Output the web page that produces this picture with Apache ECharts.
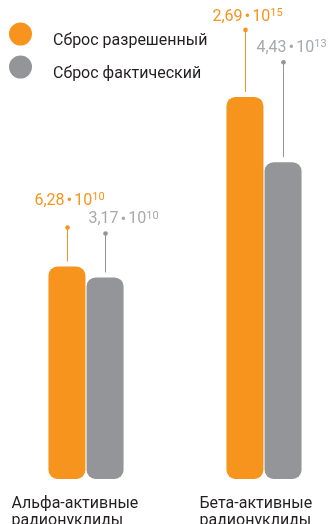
<!DOCTYPE html>
<html><head><meta charset="utf-8">
<script src="https://cdn.jsdelivr.net/npm/echarts@6/dist/echarts.min.js"></script>
<style>html,body{margin:0;padding:0;background:#fff}#c{width:330px;height:524px}</style>
</head><body><div id="c"></div>
<script>
// ---- data ----
const categories = ['Альфа-активные\nрадионуклиды', 'Бета-активные\nрадионуклиды'];
const seriesNames = ['Сброс разрешенный', 'Сброс фактический'];
const allowedValues = [6.28e10, 2.69e15];
const actualValues = [3.17e10, 4.43e13];

// ---- style / layout (not data) ----
const FONT = 'Roboto';
const ORANGE = '#F7941D', GRAY = '#939598', GRAY_TXT = '#A7A9AC', DARK = '#231F20';
// per series, per category: [dot height above bar top, text dx from dot, text dy above dot]
const calloutLayout = [
  [[39, 2, 27], [67, 2, 13]],
  [[44, 18, 14], [100, 8, 14]]
];
const labelBoxWidth = [149, 129];
const legendTops = [22.5, 55.5];
// circle on top of the icon box, text sits lower
const legendIcon = 'path://M0,11.5A11.5,11.5,0,1,1,23,11.5A11.5,11.5,0,1,1,0,11.5Z M0,37L0.01,37L0,37Z';

const seriesValues = [allowedValues, actualValues];
const colors = [ORANGE, GRAY];
const textColors = [ORANGE, GRAY_TXT];

const calloutData = [];
seriesValues.forEach((vals, s) => vals.forEach((v, ci) => calloutData.push([ci, v, s])));

function renderCallout(params, api) {
  const ci = api.value(0), v = api.value(1), s = api.value(2);
  const p = api.coord([ci, v]);
  const x = Math.round(p[0] + (s === 0 ? -19 : 19)) + 0.5;
  const top = p[1];
  const L = calloutLayout[s][ci];
  const exp = Math.floor(Math.log10(v) + 1e-9);
  const mant = (v / Math.pow(10, exp)).toFixed(2).replace('.', ',');
  const tc = textColors[s];
  return {
    type: 'group',
    children: [
      {type: 'line', shape: {x1: x, y1: top - 5, x2: x, y2: top - L[0]}, style: {stroke: colors[s], lineWidth: 1}},
      {type: 'circle', shape: {cx: x, cy: top - L[0], r: 2.3}, style: {fill: colors[s]}},
      {type: 'text', style: {
        x: x + L[1], y: top - L[0] - L[2],
        text: '{v|' + mant + '}{b|•}{v|10}{s|' + exp + '}',
        align: 'center', verticalAlign: 'middle',
        font: '16px ' + FONT, fill: tc,
        rich: {
          v: {font: '16px ' + FONT, fill: tc},
          b: {font: '17px ' + FONT, fill: tc, padding: [0, 2, 0, 2]},
          s: {font: '11px ' + FONT, fill: tc, padding: [0, 0, 7, 0]}
        }
      }}
    ]
  };
}

function makeLegend(i) {
  return {
    data: [seriesNames[i]],
    orient: 'vertical', left: 9, top: legendTops[i], padding: 0,
    icon: legendIcon, itemWidth: 23, itemHeight: 37,
    textStyle: {fontSize: 16, fontFamily: FONT, color: DARK, padding: [0, 0, 0, 16]}
  };
}

const chart = echarts.init(document.getElementById('c'), null, {renderer: 'canvas'});
chart.setOption({
  animation: false,
  backgroundColor: '#fff',
  grid: {left: -3, width: 356, top: 76, bottom: 45, outerBoundsMode: 'none', containLabel: false},
  legend: [makeLegend(0), makeLegend(1)],
  xAxis: {
    type: 'category', data: categories,
    axisLine: {show: false}, axisTick: {show: false}, splitLine: {show: false},
    axisLabel: {
      margin: 16,
      formatter: function (val, idx) {
        return val.split('\n').map(l => '{c' + idx + '|' + l + '}').join('\n');
      },
      rich: {
        c0: {width: labelBoxWidth[0], align: 'left', fontSize: 16, fontFamily: FONT, color: DARK, lineHeight: 17},
        c1: {width: labelBoxWidth[1], align: 'left', fontSize: 16, fontFamily: FONT, color: DARK, lineHeight: 17}
      }
    }
  },
  yAxis: {type: 'log', logBase: 10, min: 1e5, max: 1e16, show: false},
  series: [
    {name: seriesNames[0], type: 'bar', data: allowedValues, barWidth: 37, barGap: '3%',
     itemStyle: {color: ORANGE, borderRadius: 9}},
    {name: seriesNames[1], type: 'bar', data: actualValues, barWidth: 37, barGap: '3%',
     itemStyle: {color: GRAY, borderRadius: 9}},
    {type: 'custom', data: calloutData, renderItem: renderCallout, encode: {x: 0, y: 1}, z: 5, silent: true}
  ]
});
</script></body></html>
